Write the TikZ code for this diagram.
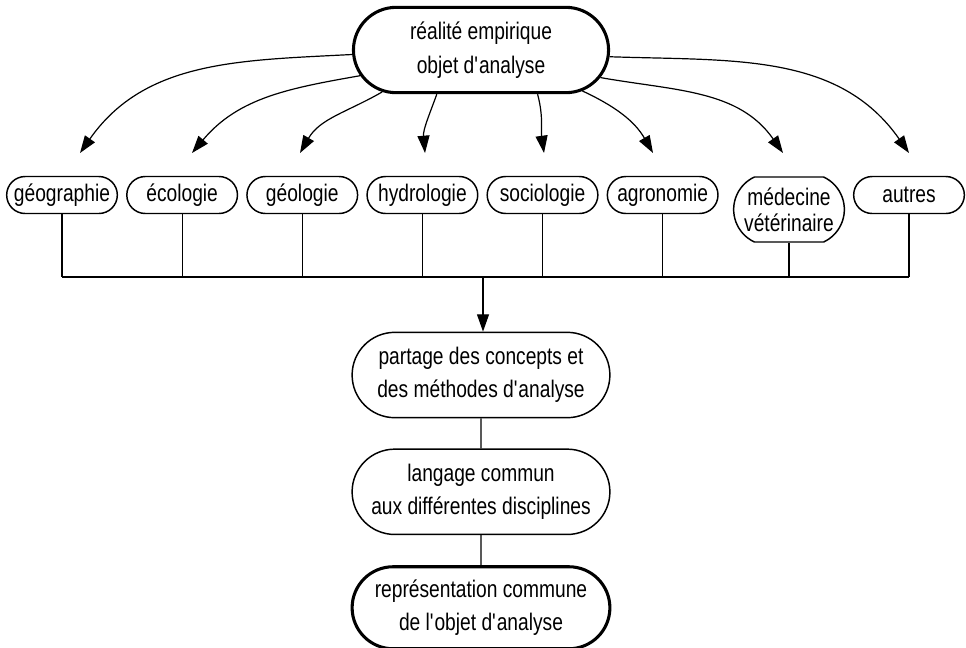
\documentclass[tikz,border=0pt]{standalone}
\usepackage{fontspec}
\setmainfont{Liberation Sans}[FakeStretch=0.8]
\usetikzlibrary{shapes.misc}
\usetikzlibrary{arrows.meta}
\usetikzlibrary{positioning}

\begin{document}
\begin{tikzpicture}[
  x=0.75pt, y=0.75pt,
  every node/.style={font=\fontsize{18}{25}\selectfont, align=center},
  disc/.style={rounded rectangle, draw, line width=1.1pt, minimum width=85pt,
    minimum height=27.75pt, inner sep=1pt},
  bigbox/.style={rounded rectangle, draw, line width=1.1pt, minimum width=200pt,
    minimum height=64pt},
  heavy/.style={line width=2.3pt},
  link/.style={line width=0.9pt},
  tip/.style={link, -{Triangle[length=13pt,width=9pt]}}
]
\useasboundingbox (0,0) rectangle (966,-647);

% source
\node[bigbox, heavy, minimum width=198pt] (reel) at (481,-50)
  {réalité empirique\\objet d\textquotesingle analyse};

% disciplines
\node[disc] (geo) at (62,-195) {géographie};
\node[disc, right=6pt of geo] (eco) {écologie};
\node[disc, right=6pt of eco] (geol) {géologie};
\node[disc, right=6pt of geol] (hydro) {hydrologie};
\node[disc, right=6pt of hydro] (socio) {sociologie};
\node[disc, right=6pt of socio] (agro) {agronomie};
\node[disc, minimum height=48.75pt, rounded rectangle arc length=130,
  font=\fontsize{18}{19.5}\selectfont] (med) at (789,-209.5) {médecine\\vétérinaire};
\node[disc] (aut) at (909,-195) {autres};

% arrow ends
\coordinate (t1) at (80,-153);
\coordinate (t2) at (192,-153);
\coordinate (t3) at (300,-153);
\coordinate (t4) at (425,-153);
\coordinate (t5) at (544,-153);
\coordinate (t6) at (653,-153);
\coordinate (t7) at (783,-153);
\coordinate (t8) at (909,-153);

\draw[tip] (reel.182) to[out=183, in=55] (t1);
\draw[tip] (reel.192) to[out=190, in=50] (t2);
\draw[tip] (reel.203) to[out=210, in=60] (t3);
\draw[tip] (reel.225) to[out=250, in=95] (t4);
\draw[tip] (reel.322) to[out=285, in=98] (t5);
\draw[tip] (reel.338) to[out=335, in=120] (t6);
\draw[tip] (reel.347) to[out=350, in=125] (t7);
\draw[tip] (reel.357) to[out=358, in=125] (t8);

% collecting bar
\coordinate (bar) at (483,-277);
\draw[link] (geo.south |- bar) -- (aut.south |- bar);
\foreach \n in {geo,eco,geol,hydro,socio,agro,med,aut}
  \draw[link] (\n.south) -- (\n.south |- bar);

% common ground
\node[bigbox] (partage) at (481,-375)
  {partage des concepts et\\des méthodes d\textquotesingle analyse};
\node[bigbox, below=22.5pt of partage] (langage)
  {langage commun\\aux différentes disciplines};
\node[bigbox, heavy, minimum height=61.5pt, below=22.5pt of langage] (repr)
  {représentation commune\\de l\textquotesingle objet d\textquotesingle analyse};

\draw[tip] (bar) -- (bar |- partage.north);
\draw[link] (partage) -- (langage);
\draw[link] (langage) -- (repr);
\end{tikzpicture}
\end{document}
